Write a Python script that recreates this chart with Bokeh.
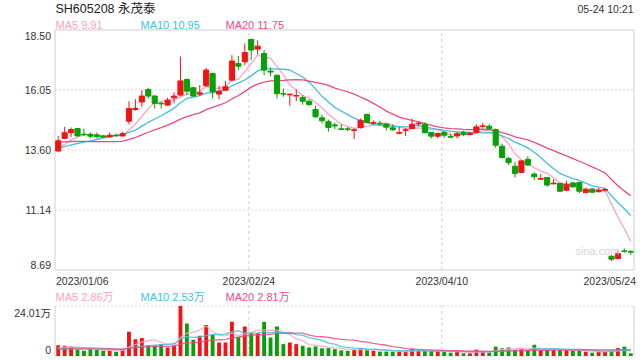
import numpy as np
import pandas as pd
from bokeh.plotting import figure
from bokeh.models import Range1d, ColumnDataSource
from bokeh.core.properties import value
from bokeh.embed import file_html
from bokeh.resources import INLINE

# ---------------- data ----------------
title_text = "SH605208 永茂泰"
time_text = "05-24 10:21"
watermark = "sina.com"
date_ticks = [0, 30, 60, 89]
date_labels = ["2023/01/06", "2023/02/24", "2023/04/10", "2023/05/24"]
price_ticks = [18.50, 16.05, 13.60, 11.14, 8.69]
price_tick_labels = ["18.50", "16.05", "13.60", "11.14", "8.69"]
vol_ticks = [24.01, 0.0]
vol_tick_labels = ["24.01万", "0"]
ma_windows = [5, 10, 20]
price_ma_legend = ["MA5 9.91", "MA10 10.95", "MA20 11.75"]
vol_ma_legend = ["MA5 2.86万", "MA10 2.53万", "MA20 2.81万"]

open_ = [13.55, 14.07, 14.30, 14.47, 14.24, 14.23, 14.21, 14.17, 14.13, 14.20,
         14.17, 14.77, 15.25, 15.56, 16.07, 15.80, 15.51, 15.43, 15.73, 15.84,
         16.48, 16.14, 15.88, 16.22, 16.72, 15.88, 16.04, 16.45, 17.13, 17.20,
         18.11, 17.72, 17.54, 16.82, 16.65, 15.90, 15.85, 15.80, 15.74, 15.59,
         15.25, 14.91, 14.75, 14.62, 14.46, 14.46, 14.39, 14.51, 15.05, 14.69,
         14.69, 14.66, 14.50, 14.28, 14.39, 14.47, 14.66, 14.65, 14.31, 14.16,
         14.31, 14.15, 14.17, 14.31, 14.23, 14.31, 14.56, 14.57, 14.43, 13.75,
         13.25, 12.93, 12.68, 13.21, 12.61, 12.40, 12.47, 12.21, 12.23, 11.95,
         12.25, 12.27, 11.86, 11.99, 11.89, 11.95, 9.25, 9.16, 9.47, 9.45]
high = [14.16, 14.54, 14.51, 14.50, 14.47, 14.31, 14.31, 14.20, 14.31, 14.27,
        14.34, 15.59, 15.67, 16.04, 16.14, 15.84, 15.56, 15.73, 15.95, 17.42,
        16.52, 16.18, 16.25, 16.95, 16.76, 16.22, 16.41, 17.47, 17.44, 17.95,
        18.15, 18.08, 17.68, 16.97, 16.68, 16.11, 15.89, 16.07, 15.84, 15.67,
        15.40, 15.05, 14.84, 14.72, 14.65, 14.53, 14.47, 14.88, 15.07, 14.80,
        14.79, 14.70, 14.65, 14.53, 14.49, 14.88, 14.76, 14.73, 14.34, 14.31,
        14.38, 14.27, 14.34, 14.38, 14.34, 14.65, 14.70, 14.65, 14.47, 13.86,
        13.32, 13.11, 13.18, 13.34, 12.68, 12.61, 12.50, 12.40, 12.25, 12.34,
        12.29, 12.29, 12.05, 12.04, 12.05, 12.04, 9.30, 9.50, 9.57, 9.50]
low = [13.55, 14.04, 14.13, 14.16, 14.17, 14.07, 14.07, 14.09, 14.11, 14.13,
       14.16, 14.64, 15.20, 15.36, 15.70, 15.29, 15.29, 15.40, 15.50, 15.81,
       15.84, 15.77, 15.80, 16.18, 15.70, 15.66, 16.00, 16.42, 16.86, 17.06,
       17.27, 17.50, 16.65, 16.61, 15.70, 15.77, 15.40, 15.59, 15.45, 15.39,
       14.92, 14.68, 14.34, 14.45, 14.42, 14.36, 14.04, 14.47, 14.68, 14.64,
       14.60, 14.39, 14.38, 14.24, 14.17, 14.45, 14.57, 14.28, 14.07, 14.07,
       14.09, 14.07, 14.07, 14.17, 14.20, 14.28, 14.47, 14.45, 13.68, 13.25,
       12.98, 12.47, 12.65, 12.95, 12.36, 12.39, 12.09, 12.20, 11.89, 11.91,
       12.05, 11.82, 11.82, 11.83, 11.86, 11.89, 9.05, 9.12, 9.40, 9.30]
close = [13.97, 14.30, 14.43, 14.17, 14.22, 14.16, 14.15, 14.12, 14.20, 14.19,
         14.26, 15.29, 15.30, 15.80, 15.80, 15.50, 15.48, 15.63, 15.80, 16.42,
         16.00, 15.80, 15.93, 16.86, 15.97, 16.00, 16.18, 17.23, 17.02, 17.58,
         17.68, 17.84, 16.86, 16.78, 15.90, 15.88, 15.88, 15.82, 15.59, 15.45,
         14.95, 14.79, 14.51, 14.58, 14.43, 14.43, 14.42, 14.81, 14.72, 14.72,
         14.66, 14.53, 14.42, 14.31, 14.42, 14.65, 14.69, 14.30, 14.16, 14.27,
         14.20, 14.12, 14.26, 14.23, 14.28, 14.54, 14.58, 14.47, 13.79, 13.29,
         13.08, 12.63, 13.15, 12.98, 12.50, 12.43, 12.16, 12.24, 11.91, 12.20,
         12.09, 11.91, 11.98, 11.87, 11.95, 11.98, 9.13, 9.36, 9.45, 9.42]
volume = [5.2, 4.9, 4.5, 3.0, 2.5, 3.3, 3.0, 2.5, 2.5, 2.1,
          3.0, 11.6, 8.1, 8.7, 5.2, 5.2, 5.7, 4.1, 5.2, 24.01,
          15.6, 7.8, 9.7, 14.9, 10.5, 6.5, 6.5, 16.4, 9.2, 14.2,
          11.3, 11.0, 16.4, 8.9, 14.2, 5.7, 6.5, 5.7, 4.9, 4.1,
          4.6, 3.7, 3.8, 3.3, 2.7, 2.5, 2.9, 3.8, 3.0, 2.5,
          2.1, 2.1, 2.1, 2.2, 2.2, 3.3, 2.5, 2.5, 2.5, 2.2,
          2.1, 1.6, 2.1, 1.3, 1.3, 3.0, 2.2, 1.7, 4.5, 3.7,
          4.1, 3.0, 3.3, 2.9, 5.4, 2.9, 2.9, 2.9, 2.9, 2.9,
          2.5, 2.5, 2.1, 1.6, 2.1, 2.1, 2.5, 3.8, 4.5, 1.3]
# closes / volumes of the 19 sessions before the window (for the moving averages)
prior_close = [14.3, 14.2, 14.1, 14.2, 14.3, 14.2, 14.1, 14.2, 14.2, 14.0,
               13.8, 13.7, 13.6, 13.7, 13.6, 13.6, 13.5, 13.6, 13.74]
prior_volume = [2.6, 2.8, 3.0, 2.5, 2.7, 3.1, 2.9, 2.6, 2.8, 3.0,
                3.2, 3.0, 2.9, 3.1, 2.8, 3.5, 3.8, 4.0, 3.6]

# ---------------- style / layout ----------------
FONT = "Liberation Sans, Noto Sans CJK SC"
UP, DOWN = "#f21414", "#08a008"
MA_COLORS = ["#fda2c2", "#3fbfe2", "#ea4a84"]
TXT = "#333333"
BORDER = "#cfcfcf"
GRID = "#dadada"
X0, X1, Y0, Y1 = 0, 636, 0, 358       # page pixels covered by the canvas
FL, FR = 54.5, 633.5                   # panel left / right
PT, PB = 29.5, 269.5                   # price panel top / bottom
VT, VB = 305.5, 355.5                  # volume panel top / bottom
GRID_SHIFT = -0.37

n = len(close)
slot = (FR - FL) / n
idx_range = Range1d(-0.5 - (FL - X0) / slot, n - 0.5 + (X1 - FR) / slot)
ppp = (price_ticks[0] - price_ticks[-1]) / (PB - PT)
price_range = Range1d(price_ticks[-1] - (Y1 - PB) * ppp, price_ticks[0] + (PT - Y0) * ppp)
vpp = (vol_ticks[0] - vol_ticks[-1]) / (VB - VT)
vol_range = Range1d(vol_ticks[-1] - (Y1 - VB) * vpp, vol_ticks[0] + (VT - Y0) * vpp)

p = figure(width=X1 - X0, height=Y1 - Y0, x_range=Range1d(X0, X1), y_range=Range1d(Y1, Y0),
           x_axis_type=None, y_axis_type=None, toolbar_location=None,
           output_backend="svg", min_border=0, outline_line_color=None)
p.background_fill_color = "white"
p.border_fill_color = "white"
p.extra_x_ranges = {"idx": idx_range}
p.extra_y_ranges = {"price": price_range, "vol": vol_range}
P = dict(x_range_name="idx", y_range_name="price")
V = dict(x_range_name="idx", y_range_name="vol")

left_edge, right_edge = -0.5, n - 0.5
# price panel grid + frame
mid = price_ticks[1:-1]
p.segment(x0=[left_edge] * len(mid), x1=[right_edge] * len(mid), y0=mid, y1=mid,
          line_color=GRID, line_dash="2 2", line_width=1, **P)
vx = [t + GRID_SHIFT for t in date_ticks[1:-1]]
p.segment(x0=vx, x1=vx, y0=[price_ticks[-1]] * len(vx), y1=[price_ticks[0]] * len(vx),
          line_color="#cccccc", line_dash="3 3", line_width=1, **P)
p.quad(left=[left_edge], right=[right_edge], bottom=[price_ticks[-1]], top=[price_ticks[0]],
       fill_color=None, line_color=BORDER, line_width=1, **P)

# volume panel grid + frame
p.segment(x0=[left_edge] * 2, x1=[right_edge] * 2, y0=vol_ticks, y1=vol_ticks,
          line_color=GRID, line_dash="2 2", line_width=1.2, **V)
p.segment(x0=vx, x1=vx, y0=[vol_ticks[-1]] * len(vx), y1=[vol_ticks[0]] * len(vx),
          line_color="#cccccc", line_dash="3 3", line_width=1, **V)
p.segment(x0=[left_edge, right_edge], x1=[left_edge, right_edge],
          y0=[vol_ticks[-1]] * 2, y1=[vol_ticks[0]] * 2, line_color=BORDER, line_width=1, **V)

# moving averages
ma_price = [pd.Series(prior_close + close).rolling(w).mean().values[len(prior_close):] for w in ma_windows]
ma_vol = [pd.Series(prior_volume + volume).rolling(w).mean().values[len(prior_volume):] for w in ma_windows]
xs = np.arange(n)

o = np.array(open_); c = np.array(close)
colors = np.where(c >= o, UP, DOWN)
src = ColumnDataSource(dict(x=xs, high=high, low=low, top=np.maximum(o, c), bottom=np.minimum(o, c),
                            vol=volume, color=colors))

for ma, col in zip(ma_price, MA_COLORS):
    p.line(xs, ma, line_color=col, line_width=1.3, **P)
p.segment(x0="x", x1="x", y0="low", y1="high", line_color="color", line_width=1, source=src, **P)
p.vbar(x="x", width=0.8, top="top", bottom="bottom", fill_color="color", line_color="color",
       line_width=1, source=src, **P)

p.vbar(x="x", width=0.6, top="vol", bottom=0, fill_color="color", line_color=None, source=src, **V)
for ma, col in zip(ma_vol, MA_COLORS):
    p.line(xs, ma, line_color=col, line_width=1.3, line_alpha=0.85, **V)

# texts
tf = value(FONT)
p.text(x=[55], y=[8.5], text=[title_text], text_font=tf, text_font_size="12.5px",
       text_color="#222222", text_baseline="middle")
p.text(x=[633], y=[8.5], text=[time_text], text_font=tf, text_font_size="10.5px",
       text_color=TXT, text_baseline="middle", text_align="right")
p.text(x=[55, 140, 225], y=[24] * 3, text=price_ma_legend, text_font=tf, text_font_size="11px",
       text_color=MA_COLORS, text_baseline="middle")
p.text(x=[55, 140, 225], y=[296] * 3, text=vol_ma_legend, text_font=tf, text_font_size="11px",
       text_color=MA_COLORS, text_baseline="middle")
p.text(x=[619], y=[250], text=[watermark], text_font=tf, text_font_size="11px",
       text_color="#d4d4d4", text_baseline="middle", text_align="right")

p.text(x=[left_edge] * len(price_ticks), y=price_ticks, text=price_tick_labels,
       x_offset=-4, y_offset=[5.5, 0, 0, 0, -5.5], text_font=tf, text_font_size="10.5px",
       text_color=TXT, text_align="right", text_baseline="middle", **P)
p.text(x=[left_edge] * len(vol_ticks), y=vol_ticks, text=vol_tick_labels,
       x_offset=-4, y_offset=[6.5, -6], text_font=tf, text_font_size="10.5px",
       text_color=TXT, text_align="right", text_baseline="middle", **V)

p.text(x=[date_ticks[0] - 0.5], y=[280], text=[date_labels[0]], x_offset=1, text_font=tf,
       text_font_size="10.5px", text_color=TXT, text_baseline="middle", text_align="left",
       x_range_name="idx")
p.text(x=[t + GRID_SHIFT for t in date_ticks[1:-1]], y=[280] * 2, text=date_labels[1:-1], text_font=tf,
       text_font_size="10.5px", text_color=TXT, text_baseline="middle", text_align="center",
       x_range_name="idx")
p.text(x=[date_ticks[-1] + 0.5], y=[280], text=[date_labels[-1]], x_offset=2, text_font=tf,
       text_font_size="10.5px", text_color=TXT, text_baseline="middle", text_align="right",
       x_range_name="idx")

open("out.html", "w").write(file_html(p, INLINE))
